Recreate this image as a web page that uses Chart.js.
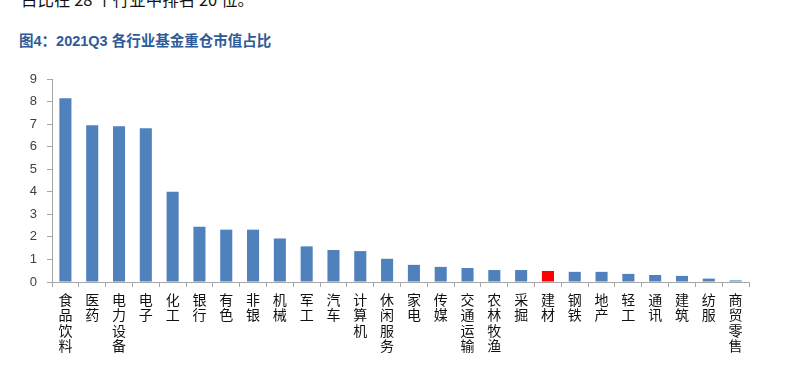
<!DOCTYPE html>
<html lang="zh">
<head>
<meta charset="UTF-8">
<title>2021Q3 各行业基金重仓市值占比</title>
<script src="https://cdn.jsdelivr.net/npm/chart.js"></script>
<style>
	html, body { margin: 0; padding: 0; background: #fff; }
	body { width: 801px; height: 374px; position: relative; overflow: hidden; font-family: "Noto Sans CJK SC", sans-serif; }
	#lead { position: absolute; left: 21px; top: -10px; font-size: 16.5px; line-height: 18px; color: #111; white-space: nowrap; }
	#title { position: absolute; left: 19px; top: 29px; font-size: 14.5px; font-weight: bold; color: #2E5B98; white-space: nowrap; font-family: "Liberation Sans", "Noto Sans CJK SC", sans-serif; }
	#wrap { position: absolute; left: 0; top: 0; width: 801px; height: 374px; }
</style>
</head>
<body>
	<div id="lead">占比在 28 个行业中排名 20 位。</div>
	<div id="title">图4：2021Q3 各行业基金重仓市值占比</div>
	<div id="wrap"><canvas id="barChart"></canvas></div>

<script>
// industries, in chart order
const industries = ['食品饮料', '医药', '电力设备', '电子', '化工', '银行', '有色', '非银', '机械', '军工',
	'汽车', '计算机', '休闲服务', '家电', '传媒', '交通运输', '农林牧渔', '采掘', '建材', '钢铁',
	'地产', '轻工', '通讯', '建筑', '纺服', '商贸零售'];
// share of fund heavy-holding market value (%)
const shares = [8.15, 6.95, 6.9, 6.82, 4.0, 2.45, 2.32, 2.32, 1.93, 1.58,
	1.42, 1.37, 1.03, 0.76, 0.67, 0.62, 0.53, 0.53, 0.49, 0.45,
	0.45, 0.36, 0.31, 0.27, 0.15, 0.07];
const highlight = '建材';
const yTicks = [0, 1, 2, 3, 4, 5, 6, 7, 8, 9];

var ctx = document.getElementById('barChart').getContext('2d');
var barChart = new Chart(ctx, {
	type: 'bar',
	data: {
		// one character per line so labels stack vertically
		labels: industries.map(s => s.split('')),
		datasets: [{
			data: shares,
			backgroundColor: industries.map(s => s === highlight ? '#FF0000' : '#4F81BD'),
			barPercentage: 0.45,
			categoryPercentage: 1.0
		}]
	},
	options: {
		responsive: true,
		maintainAspectRatio: false,
		animation: false,
		layout: { padding: { top: 79, right: 52, left: 0, bottom: 0 } },
		plugins: { legend: { display: false }, tooltip: { enabled: false } },
		scales: {
			x: {
				grid: { display: true, drawOnChartArea: false, offset: true, tickLength: 5, color: '#A6A6A6' },
				border: { color: '#A6A6A6' },
				ticks: {
					autoSkip: false, maxRotation: 0, minRotation: 0, padding: 5, color: '#111',
					font: { family: '"Noto Sans CJK SC", sans-serif', size: 14, lineHeight: 1.1 }
				},
				afterFit: function (scale) { scale.height = 92; }
			},
			y: {
				min: 0, max: 9,
				grid: { display: true, drawOnChartArea: false, tickLength: 5, color: '#A6A6A6' },
				border: { color: '#A6A6A6' },
				afterBuildTicks: function (scale) { scale.ticks = yTicks.map(v => ({ value: v })); },
				ticks: {
					padding: 10, color: '#404040',
					font: { family: '"Liberation Sans", sans-serif', size: 13 }
				},
				afterFit: function (scale) { scale.width = 52; }
			}
		}
	}
});
</script>
</body>
</html>
